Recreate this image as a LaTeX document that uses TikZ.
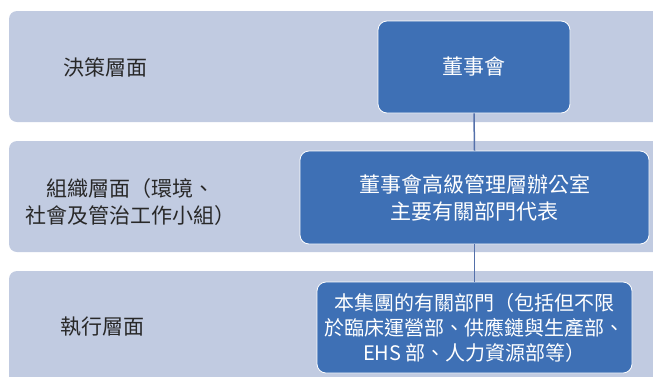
\documentclass[tikz,border=0pt]{standalone}
\usepackage{fontspec}
\setmainfont{Noto Sans CJK TC}
\definecolor{bandc}{RGB}{193,203,225}
\definecolor{boxc}{RGB}{62,112,181}
\definecolor{linec}{RGB}{84,112,170}
\definecolor{txtc}{RGB}{40,40,40}
\tikzset{
  band/.style={fill=bandc, draw=none, rounded corners=8pt},
  bluebox/.style={fill=boxc, draw=white, line width=0.8pt, rounded corners=9pt, text=white, align=center, font=\fontsize{21}{27}\selectfont, inner sep=0pt},
  lvl/.style={text=txtc, align=center, font=\fontsize{21}{27}\selectfont, inner sep=0pt},
  conn/.style={draw=linec, line width=1.5pt}
}
\begin{document}
\begin{tikzpicture}[x=1pt,y=-1pt]
\useasboundingbox (0,0) rectangle (653,376);
\begin{scope}
\clip (0,0) rectangle (653,376);
\path[band] (9,11) rectangle (670,122);
\path[band] (9,141) rectangle (670,252);
\path[band] (9,271) rectangle (670,400);
\end{scope}
\node[lvl] (l1) at (105,67) {決策層面};
\node[lvl] (l2) at (130,202) {組織層面（環境、\\社會及管治工作小組）};
\node[lvl] (l3) at (102,327) {執行層面};
\node[bluebox, minimum width=192pt, minimum height=92pt] (b1) at (474,67) {董事會};
\node[bluebox, minimum width=349pt, minimum height=93pt] (b2) at (474.5,197.5) {董事會高級管理層辦公室\\主要有關部門代表};
\node[bluebox, minimum width=315pt, minimum height=91pt, font=\fontsize{20}{25}\selectfont] (b3) at (474.5,327.5) {本集團的有關部門（包括但不限\\於臨床運營部、供應鏈與生產部、\\EHS 部、人力資源部等）};
\draw[conn] (b1.south) -- (b2.north);
\draw[conn] (b2.south) -- (b3.north);
\end{tikzpicture}
\end{document}
